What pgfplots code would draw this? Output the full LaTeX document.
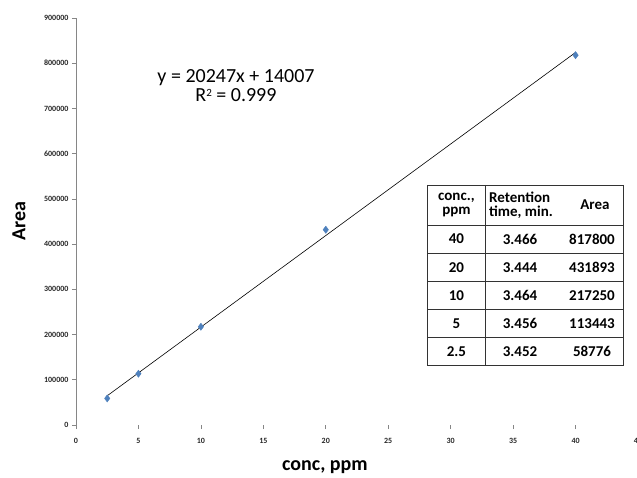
\documentclass[border=0pt]{standalone}
\usepackage{fontspec}
\setmainfont{Carlito}
\usepackage{pgfplots}
\pgfplotsset{compat=1.18}
\definecolor{exblue}{RGB}{79,129,189}
\definecolor{axgray}{RGB}{134,134,134}
\begin{document}
\begin{tikzpicture}[x=1pt,y=1pt]
\useasboundingbox (0,0) rectangle (637,477);
\begin{axis}[
  at={(76pt,52pt)}, anchor=south west,
  scale only axis, width=562pt, height=407pt,
  xmin=0, xmax=45, ymin=0, ymax=900000,
  xtick={0,5,...,45}, ytick={0,100000,...,900000},
  axis x line=bottom, axis y line=left, axis line style={-},
  x axis line style={draw=none},
  y axis line style={draw=axgray, line width=0.9pt},
  tick style={draw=axgray, line width=0.6pt},
  tick align=outside, major tick length=4pt,
  scaled y ticks=false,
  /pgf/number format/.cd, fixed, 1000 sep={}, assume math mode=true,
  /pgfplots/.cd,
  ticklabel style={font=\fontsize{8}{9}\selectfont\bfseries, text=black!85},
  xticklabel style={yshift=-6pt},
  xlabel={conc, ppm}, ylabel={Area},
  every axis x label/.style={at={(axis description cs:0.443,-0.104)}, anchor=center, font=\fontsize{20}{22}\selectfont\bfseries},
  every axis y label/.style={at={(axis description cs:-0.1014,0.5)}, anchor=center, rotate=90, font=\fontsize{20}{22}\selectfont\bfseries},
  clip=false,
]
\addplot[black, line width=0.6pt] coordinates {(2.5,64624.5) (40,823887)};
\addplot[only marks, mark=diamond*, mark size=3.6pt, mark options={fill=exblue, draw=exblue}]
  coordinates {(2.5,58776) (5,113443) (10,217250) (20,431893) (40,817800)};
\end{axis}
% trendline equation
\node[align=center, font=\fontsize{20}{19}\selectfont] at (236,391.5) {y = 20247x + 14007\\R\raisebox{0.55ex}{\fontsize{11}{11}\selectfont 2} = 0.999};
% table
\fill[white] (427.7,111.3) rectangle (623,292);
\begin{scope}[line width=0.9pt, draw=black!80]
\draw (427.7,292) -- (623,292);
\foreach \yy in {252,223.9,195.7,167.6,139.4,111.3} \draw (427.7,\yy) -- (623,\yy);
\draw (427.7,292) -- (427.7,111.3);
\draw (485,292) -- (485,111.3);
\draw (623,292) -- (623,111.3);
\end{scope}
\begin{scope}[font=\fontsize{15}{14}\selectfont\bfseries]
\node[align=center] at (456.4,272) {conc.,\\ppm};
\node[align=left] at (521,272) {Retention\\time, min.};
\node at (595,272) {Area};
\node at (456.4,238) {40};  \node at (520,238) {3.466}; \node at (592,238) {817800};
\node at (456.4,209.8) {20}; \node at (520,209.8) {3.444}; \node at (592,209.8) {431893};
\node at (456.4,181.7) {10}; \node at (520,181.7) {3.464}; \node at (592,181.7) {217250};
\node at (456.4,153.5) {5};  \node at (520,153.5) {3.456}; \node at (592,153.5) {113443};
\node at (456.4,125.4) {2.5}; \node at (520,125.4) {3.452}; \node at (592,125.4) {58776};
\end{scope}
\end{tikzpicture}
\end{document}
